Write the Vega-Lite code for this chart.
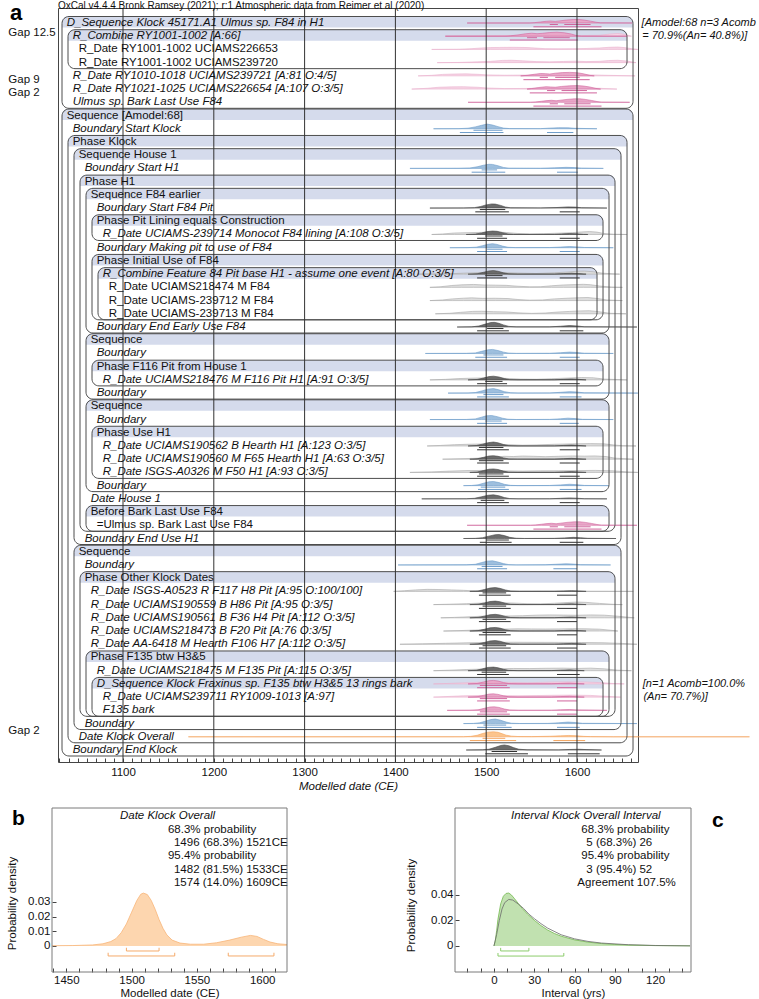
{
"$schema":"https://vega.github.io/schema/vega-lite/v6.json",
"width":580,"height":754,
"autosize":{"type":"none"},
"padding":{"left":58,"top":8,"right":121,"bottom":237},
"config":{"view":{"stroke":"#454545","strokeWidth":1},"font":"Liberation Sans","text":{"font":"Liberation Sans"},"axis":{"labelFont":"Liberation Sans","titleFont":"Liberation Sans"}},
"resolve":{"scale":{"x":"independent","y":"independent"}},
"datasets":{
"labels":[
{"r":1,"t":"D_Sequence Klock 45171.A1 Ulmus sp. F84 in H1","ind":0,"it":1},
{"r":2,"t":"R_Combine RY1001-1002 [A:66]","ind":1,"it":1},
{"r":3,"t":"R_Date RY1001-1002 UCIAMS226653","ind":2,"it":0},
{"r":4,"t":"R_Date RY1001-1002 UCIAMS239720","ind":2,"it":0},
{"r":5,"t":"R_Date RY1010-1018 UCIAMS239721 [A:81 O:4/5]","ind":1,"it":1},
{"r":6,"t":"R_Date RY1021-1025 UCIAMS226654 [A:107 O:3/5]","ind":1,"it":1},
{"r":7,"t":"Ulmus sp. Bark Last Use F84","ind":1,"it":1},
{"r":8,"t":"Sequence [Amodel:68]","ind":0,"it":0},
{"r":9,"t":"Boundary Start Klock","ind":1,"it":1},
{"r":10,"t":"Phase Klock","ind":1,"it":0},
{"r":11,"t":"Sequence House 1","ind":2,"it":0},
{"r":12,"t":"Boundary Start H1","ind":3,"it":1},
{"r":13,"t":"Phase H1","ind":3,"it":0},
{"r":14,"t":"Sequence F84 earlier","ind":4,"it":0},
{"r":15,"t":"Boundary Start F84 Pit","ind":5,"it":1},
{"r":16,"t":"Phase Pit Lining equals Construction","ind":5,"it":0},
{"r":17,"t":"R_Date UCIAMS-239714 Monocot F84 lining [A:108 O:3/5]","ind":6,"it":1},
{"r":18,"t":"Boundary Making pit to use of F84","ind":5,"it":1},
{"r":19,"t":"Phase Initial Use of F84","ind":5,"it":0},
{"r":20,"t":"R_Combine Feature 84 Pit base H1 - assume one event [A:80 O:3/5]","ind":6,"it":1},
{"r":21,"t":"R_Date UCIAMS218474 M F84","ind":7,"it":0},
{"r":22,"t":"R_Date UCIAMS-239712 M F84","ind":7,"it":0},
{"r":23,"t":"R_Date UCIAMS-239713 M F84","ind":7,"it":0},
{"r":24,"t":"Boundary End Early Use F84","ind":5,"it":1},
{"r":25,"t":"Sequence","ind":4,"it":0},
{"r":26,"t":"Boundary","ind":5,"it":1},
{"r":27,"t":"Phase F116 Pit from House 1","ind":5,"it":0},
{"r":28,"t":"R_Date UCIAMS218476 M F116 Pit H1 [A:91 O:3/5]","ind":6,"it":1},
{"r":29,"t":"Boundary","ind":5,"it":1},
{"r":30,"t":"Sequence","ind":4,"it":0},
{"r":31,"t":"Boundary","ind":5,"it":1},
{"r":32,"t":"Phase Use H1","ind":5,"it":0},
{"r":33,"t":"R_Date UCIAMS190562 B Hearth H1 [A:123 O:3/5]","ind":6,"it":1},
{"r":34,"t":"R_Date UCIAMS190560 M F65 Hearth H1 [A:63 O:3/5]","ind":6,"it":1},
{"r":35,"t":"R_Date ISGS-A0326 M F50 H1 [A:93 O:3/5]","ind":6,"it":1},
{"r":36,"t":"Boundary","ind":5,"it":1},
{"r":37,"t":"Date House 1","ind":4,"it":1},
{"r":38,"t":"Before Bark Last Use F84","ind":4,"it":0},
{"r":39,"t":"=Ulmus sp. Bark Last Use F84","ind":5,"it":0},
{"r":40,"t":"Boundary End Use H1","ind":3,"it":1},
{"r":41,"t":"Sequence","ind":2,"it":0},
{"r":42,"t":"Boundary","ind":3,"it":1},
{"r":43,"t":"Phase Other Klock Dates","ind":3,"it":0},
{"r":44,"t":"R_Date ISGS-A0523 R F117 H8 Pit [A:95 O:100/100]","ind":4,"it":1},
{"r":45,"t":"R_Date UCIAMS190559 B H86 Pit [A:95 O:3/5]","ind":4,"it":1},
{"r":46,"t":"R_Date UCIAMS190561 B F36 H4 Pit [A:112 O:3/5]","ind":4,"it":1},
{"r":47,"t":"R_Date UCIAMS218473 B F20 Pit [A:76 O:3/5]","ind":4,"it":1},
{"r":48,"t":"R_Date AA-6418 M Hearth F106 H7 [A:112 O:3/5]","ind":4,"it":1},
{"r":49,"t":"Phase F135 btw H3&5","ind":4,"it":0},
{"r":50,"t":"R_Date UCIAMS218475 M F135 Pit [A:115 O:3/5]","ind":5,"it":1},
{"r":51,"t":"D_Sequence Klock Fraxinus sp. F135 btw H3&5 13 rings bark","ind":5,"it":1},
{"r":52,"t":"R_Date UCIAMS239711 RY1009-1013 [A:97]","ind":6,"it":1},
{"r":53,"t":"F135 bark","ind":6,"it":1},
{"r":54,"t":"Boundary","ind":3,"it":1},
{"r":55,"t":"Date Klock Overall","ind":2,"it":1},
{"r":56,"t":"Boundary End Klock","ind":1,"it":1}
],
"boxes":[
{"r0":1,"r1":7,"depth":0},{"r0":2,"r1":4,"depth":1},{"r0":8,"r1":56,"depth":0},{"r0":10,"r1":55,"depth":1},
{"r0":11,"r1":40,"depth":2},{"r0":13,"r1":39,"depth":3},{"r0":14,"r1":24,"depth":4},{"r0":16,"r1":17,"depth":5},
{"r0":19,"r1":23,"depth":5},{"r0":20,"r1":23,"depth":6},{"r0":25,"r1":29,"depth":4},{"r0":27,"r1":28,"depth":5},
{"r0":30,"r1":36,"depth":4},{"r0":32,"r1":35,"depth":5},{"r0":38,"r1":39,"depth":4},{"r0":41,"r1":54,"depth":2},
{"r0":43,"r1":53,"depth":3},{"r0":49,"r1":53,"depth":4},{"r0":51,"r1":53,"depth":5}
],
"grid":[{"g":1100},{"g":1200},{"g":1300},{"g":1400},{"g":1500},{"g":1600}],
"gaps":[{"t":"Gap 12.5","ind":-8.95,"r":1.77},{"t":"Gap 9","ind":-8.95,"r":5.35},{"t":"Gap 2","ind":-8.95,"r":6.3},{"t":"Gap 2","ind":-8.95,"r":54.6}],
"ann":[{"t":"[Amodel:68 n=3 Acomb","ind":96.6,"r":1},{"t":"= 70.9%(An= 40.8%)]","ind":96.7,"r":2},{"t":"[n=1 Acomb=100.0%","ind":96.8,"r":51},{"t":"(An= 70.7%)]","ind":96.9,"r":52}],
"tag":[{"t":"a","ind":-8.67,"r":0.773}],
"ttl":[{"t":"OxCal v4.4.4 Bronk Ramsey (2021); r:1 Atmospheric data from Reimer et al (2020)","ind":-0.667,"r":-0.702}],
"dist":[
{"r":1,"k":"pk","x":1479,"d":0},{"r":1,"k":"pk","x":1548,"d":0},{"r":1,"k":"pk","x":1553,"d":6},{"r":1,"k":"pk","x":1560,"d":20},{"r":1,"k":"pk","x":1566,"d":32},{"r":1,"k":"pk","x":1571,"d":38},{"r":1,"k":"pk","x":1576,"d":30},{"r":1,"k":"pk","x":1581,"d":40},{"r":1,"k":"pk","x":1588,"d":55},{"r":1,"k":"pk","x":1596,"d":65},{"r":1,"k":"pk","x":1602,"d":66},{"r":1,"k":"pk","x":1608,"d":55},{"r":1,"k":"pk","x":1615,"d":35},{"r":1,"k":"pk","x":1621,"d":15},{"r":1,"k":"pk","x":1626,"d":3},{"r":1,"k":"pk","x":1661,"d":0},
{"r":2,"k":"pl","x":1455,"d":0},{"r":2,"k":"pl","x":1490,"d":6},{"r":2,"k":"pl","x":1520,"d":12},{"r":2,"k":"pl","x":1560,"d":12},{"r":2,"k":"pl","x":1600,"d":10},{"r":2,"k":"pl","x":1625,"d":18},{"r":2,"k":"pl","x":1636,"d":40},{"r":2,"k":"pl","x":1645,"d":52},{"r":2,"k":"pl","x":1652,"d":35},{"r":2,"k":"pl","x":1660,"d":0},
{"r":2,"k":"pk","x":1455,"d":0},{"r":2,"k":"pk","x":1522,"d":0},{"r":2,"k":"pk","x":1527,"d":8},{"r":2,"k":"pk","x":1535,"d":25},{"r":2,"k":"pk","x":1543,"d":45},{"r":2,"k":"pk","x":1550,"d":57},{"r":2,"k":"pk","x":1556,"d":48},{"r":2,"k":"pk","x":1562,"d":55},{"r":2,"k":"pk","x":1570,"d":70},{"r":2,"k":"pk","x":1578,"d":76},{"r":2,"k":"pk","x":1586,"d":65},{"r":2,"k":"pk","x":1594,"d":40},{"r":2,"k":"pk","x":1600,"d":10},{"r":2,"k":"pk","x":1605,"d":0},{"r":2,"k":"pk","x":1655,"d":0},
{"r":3,"k":"pl","x":1440,"d":0},{"r":3,"k":"pl","x":1470,"d":3},{"r":3,"k":"pl","x":1482,"d":12},{"r":3,"k":"pl","x":1495,"d":28},{"r":3,"k":"pl","x":1505,"d":35},{"r":3,"k":"pl","x":1515,"d":38},{"r":3,"k":"pl","x":1530,"d":40},{"r":3,"k":"pl","x":1545,"d":36},{"r":3,"k":"pl","x":1555,"d":25},{"r":3,"k":"pl","x":1565,"d":15},{"r":3,"k":"pl","x":1580,"d":12},{"r":3,"k":"pl","x":1595,"d":14},{"r":3,"k":"pl","x":1610,"d":18},{"r":3,"k":"pl","x":1625,"d":28},{"r":3,"k":"pl","x":1635,"d":40},{"r":3,"k":"pl","x":1645,"d":45},{"r":3,"k":"pl","x":1652,"d":35},{"r":3,"k":"pl","x":1660,"d":15},{"r":3,"k":"pl","x":1667,"d":0},
{"r":4,"k":"pl","x":1446,"d":0},{"r":4,"k":"pl","x":1470,"d":4},{"r":4,"k":"pl","x":1490,"d":15},{"r":4,"k":"pl","x":1505,"d":25},{"r":4,"k":"pl","x":1518,"d":42},{"r":4,"k":"pl","x":1528,"d":45},{"r":4,"k":"pl","x":1540,"d":35},{"r":4,"k":"pl","x":1555,"d":20},{"r":4,"k":"pl","x":1570,"d":15},{"r":4,"k":"pl","x":1585,"d":22},{"r":4,"k":"pl","x":1598,"d":28},{"r":4,"k":"pl","x":1610,"d":20},{"r":4,"k":"pl","x":1625,"d":25},{"r":4,"k":"pl","x":1635,"d":40},{"r":4,"k":"pl","x":1645,"d":45},{"r":4,"k":"pl","x":1655,"d":30},{"r":4,"k":"pl","x":1665,"d":0},
{"r":5,"k":"pl","x":1425,"d":0},{"r":5,"k":"pl","x":1440,"d":10},{"r":5,"k":"pl","x":1452,"d":28},{"r":5,"k":"pl","x":1465,"d":35},{"r":5,"k":"pl","x":1478,"d":38},{"r":5,"k":"pl","x":1490,"d":30},{"r":5,"k":"pl","x":1502,"d":18},{"r":5,"k":"pl","x":1520,"d":12},{"r":5,"k":"pl","x":1545,"d":15},{"r":5,"k":"pl","x":1570,"d":22},{"r":5,"k":"pl","x":1595,"d":25},{"r":5,"k":"pl","x":1615,"d":18},{"r":5,"k":"pl","x":1635,"d":10},{"r":5,"k":"pl","x":1664,"d":0},
{"r":5,"k":"pk","x":1538,"d":0},{"r":5,"k":"pk","x":1545,"d":10},{"r":5,"k":"pk","x":1553,"d":30},{"r":5,"k":"pk","x":1560,"d":45},{"r":5,"k":"pk","x":1565,"d":42},{"r":5,"k":"pk","x":1570,"d":35},{"r":5,"k":"pk","x":1576,"d":50},{"r":5,"k":"pk","x":1584,"d":62},{"r":5,"k":"pk","x":1592,"d":66},{"r":5,"k":"pk","x":1600,"d":60},{"r":5,"k":"pk","x":1607,"d":40},{"r":5,"k":"pk","x":1614,"d":10},{"r":5,"k":"pk","x":1619,"d":0},
{"r":6,"k":"pl","x":1418,"d":0},{"r":6,"k":"pl","x":1435,"d":15},{"r":6,"k":"pl","x":1448,"d":35},{"r":6,"k":"pl","x":1462,"d":42},{"r":6,"k":"pl","x":1475,"d":45},{"r":6,"k":"pl","x":1490,"d":35},{"r":6,"k":"pl","x":1502,"d":20},{"r":6,"k":"pl","x":1520,"d":10},{"r":6,"k":"pl","x":1545,"d":12},{"r":6,"k":"pl","x":1570,"d":18},{"r":6,"k":"pl","x":1600,"d":22},{"r":6,"k":"pl","x":1625,"d":15},{"r":6,"k":"pl","x":1644,"d":0},
{"r":6,"k":"pk","x":1545,"d":0},{"r":6,"k":"pk","x":1550,"d":10},{"r":6,"k":"pk","x":1558,"d":30},{"r":6,"k":"pk","x":1566,"d":45},{"r":6,"k":"pk","x":1571,"d":40},{"r":6,"k":"pk","x":1576,"d":35},{"r":6,"k":"pk","x":1583,"d":50},{"r":6,"k":"pk","x":1592,"d":62},{"r":6,"k":"pk","x":1600,"d":66},{"r":6,"k":"pk","x":1607,"d":58},{"r":6,"k":"pk","x":1614,"d":40},{"r":6,"k":"pk","x":1621,"d":12},{"r":6,"k":"pk","x":1626,"d":0},
{"r":7,"k":"pk","x":1480,"d":0},{"r":7,"k":"pk","x":1549,"d":0},{"r":7,"k":"pk","x":1554,"d":6},{"r":7,"k":"pk","x":1561,"d":20},{"r":7,"k":"pk","x":1567,"d":32},{"r":7,"k":"pk","x":1572,"d":38},{"r":7,"k":"pk","x":1577,"d":30},{"r":7,"k":"pk","x":1582,"d":40},{"r":7,"k":"pk","x":1589,"d":55},{"r":7,"k":"pk","x":1597,"d":65},{"r":7,"k":"pk","x":1603,"d":66},{"r":7,"k":"pk","x":1609,"d":55},{"r":7,"k":"pk","x":1616,"d":35},{"r":7,"k":"pk","x":1622,"d":15},{"r":7,"k":"pk","x":1627,"d":3},{"r":7,"k":"pk","x":1658,"d":0},
{"r":9,"k":"bl","x":1442,"d":0},{"r":9,"k":"bl","x":1470,"d":2},{"r":9,"k":"bl","x":1480,"d":10},{"r":9,"k":"bl","x":1488,"d":35},{"r":9,"k":"bl","x":1495,"d":65},{"r":9,"k":"bl","x":1501,"d":88},{"r":9,"k":"bl","x":1507,"d":70},{"r":9,"k":"bl","x":1513,"d":40},{"r":9,"k":"bl","x":1519,"d":12},{"r":9,"k":"bl","x":1526,"d":3},{"r":9,"k":"bl","x":1560,"d":2},{"r":9,"k":"bl","x":1568,"d":10},{"r":9,"k":"bl","x":1580,"d":20},{"r":9,"k":"bl","x":1590,"d":18},{"r":9,"k":"bl","x":1598,"d":8},{"r":9,"k":"bl","x":1622,"d":0},
{"r":12,"k":"bl","x":1416,"d":0},{"r":12,"k":"bl","x":1470,"d":2},{"r":12,"k":"bl","x":1482,"d":8},{"r":12,"k":"bl","x":1490,"d":30},{"r":12,"k":"bl","x":1497,"d":60},{"r":12,"k":"bl","x":1503,"d":78},{"r":12,"k":"bl","x":1507,"d":75},{"r":12,"k":"bl","x":1513,"d":50},{"r":12,"k":"bl","x":1519,"d":18},{"r":12,"k":"bl","x":1525,"d":4},{"r":12,"k":"bl","x":1560,"d":2},{"r":12,"k":"bl","x":1575,"d":10},{"r":12,"k":"bl","x":1588,"d":20},{"r":12,"k":"bl","x":1597,"d":15},{"r":12,"k":"bl","x":1605,"d":5},{"r":12,"k":"bl","x":1629,"d":0},
{"r":15,"k":"dk","x":1438,"d":0},{"r":15,"k":"dk","x":1475,"d":2},{"r":15,"k":"dk","x":1487,"d":8},{"r":15,"k":"dk","x":1494,"d":30},{"r":15,"k":"dk","x":1500,"d":60},{"r":15,"k":"dk","x":1506,"d":78},{"r":15,"k":"dk","x":1510,"d":75},{"r":15,"k":"dk","x":1516,"d":50},{"r":15,"k":"dk","x":1521,"d":20},{"r":15,"k":"dk","x":1527,"d":5},{"r":15,"k":"dk","x":1560,"d":3},{"r":15,"k":"dk","x":1578,"d":10},{"r":15,"k":"dk","x":1590,"d":22},{"r":15,"k":"dk","x":1598,"d":18},{"r":15,"k":"dk","x":1605,"d":6},{"r":15,"k":"dk","x":1633,"d":0},
{"r":17,"k":"lt","x":1440,"d":0},{"r":17,"k":"lt","x":1452,"d":10},{"r":17,"k":"lt","x":1465,"d":28},{"r":17,"k":"lt","x":1480,"d":35},{"r":17,"k":"lt","x":1495,"d":40},{"r":17,"k":"lt","x":1510,"d":45},{"r":17,"k":"lt","x":1522,"d":38},{"r":17,"k":"lt","x":1534,"d":20},{"r":17,"k":"lt","x":1548,"d":10},{"r":17,"k":"lt","x":1563,"d":15},{"r":17,"k":"lt","x":1580,"d":25},{"r":17,"k":"lt","x":1595,"d":35},{"r":17,"k":"lt","x":1605,"d":48},{"r":17,"k":"lt","x":1614,"d":55},{"r":17,"k":"lt","x":1622,"d":45},{"r":17,"k":"lt","x":1629,"d":20},{"r":17,"k":"lt","x":1640,"d":5},{"r":17,"k":"lt","x":1655,"d":0},
{"r":17,"k":"dk","x":1478,"d":0},{"r":17,"k":"dk","x":1488,"d":8},{"r":17,"k":"dk","x":1495,"d":30},{"r":17,"k":"dk","x":1501,"d":55},{"r":17,"k":"dk","x":1507,"d":66},{"r":17,"k":"dk","x":1512,"d":60},{"r":17,"k":"dk","x":1518,"d":35},{"r":17,"k":"dk","x":1524,"d":10},{"r":17,"k":"dk","x":1530,"d":2},{"r":17,"k":"dk","x":1575,"d":2},{"r":17,"k":"dk","x":1583,"d":10},{"r":17,"k":"dk","x":1592,"d":18},{"r":17,"k":"dk","x":1600,"d":12},{"r":17,"k":"dk","x":1607,"d":2},{"r":17,"k":"dk","x":1612,"d":0},
{"r":18,"k":"bl","x":1460,"d":0},{"r":18,"k":"bl","x":1480,"d":2},{"r":18,"k":"bl","x":1489,"d":10},{"r":18,"k":"bl","x":1496,"d":38},{"r":18,"k":"bl","x":1502,"d":65},{"r":18,"k":"bl","x":1507,"d":76},{"r":18,"k":"bl","x":1512,"d":62},{"r":18,"k":"bl","x":1518,"d":30},{"r":18,"k":"bl","x":1524,"d":8},{"r":18,"k":"bl","x":1532,"d":2},{"r":18,"k":"bl","x":1570,"d":3},{"r":18,"k":"bl","x":1582,"d":12},{"r":18,"k":"bl","x":1592,"d":22},{"r":18,"k":"bl","x":1600,"d":15},{"r":18,"k":"bl","x":1608,"d":4},{"r":18,"k":"bl","x":1640,"d":0},
{"r":20,"k":"lt","x":1424,"d":0},{"r":20,"k":"lt","x":1455,"d":5},{"r":20,"k":"lt","x":1475,"d":18},{"r":20,"k":"lt","x":1495,"d":30},{"r":20,"k":"lt","x":1515,"d":32},{"r":20,"k":"lt","x":1535,"d":20},{"r":20,"k":"lt","x":1555,"d":12},{"r":20,"k":"lt","x":1575,"d":25},{"r":20,"k":"lt","x":1590,"d":40},{"r":20,"k":"lt","x":1600,"d":55},{"r":20,"k":"lt","x":1608,"d":58},{"r":20,"k":"lt","x":1618,"d":45},{"r":20,"k":"lt","x":1628,"d":18},{"r":20,"k":"lt","x":1647,"d":0},
{"r":20,"k":"dk","x":1480,"d":0},{"r":20,"k":"dk","x":1490,"d":8},{"r":20,"k":"dk","x":1497,"d":35},{"r":20,"k":"dk","x":1503,"d":60},{"r":20,"k":"dk","x":1508,"d":68},{"r":20,"k":"dk","x":1513,"d":55},{"r":20,"k":"dk","x":1519,"d":25},{"r":20,"k":"dk","x":1525,"d":6},{"r":20,"k":"dk","x":1535,"d":1},{"r":20,"k":"dk","x":1575,"d":2},{"r":20,"k":"dk","x":1585,"d":10},{"r":20,"k":"dk","x":1594,"d":18},{"r":20,"k":"dk","x":1602,"d":10},{"r":20,"k":"dk","x":1610,"d":0},
{"r":21,"k":"lt","x":1438,"d":0},{"r":21,"k":"lt","x":1450,"d":12},{"r":21,"k":"lt","x":1462,"d":35},{"r":21,"k":"lt","x":1473,"d":48},{"r":21,"k":"lt","x":1486,"d":55},{"r":21,"k":"lt","x":1498,"d":45},{"r":21,"k":"lt","x":1510,"d":42},{"r":21,"k":"lt","x":1522,"d":38},{"r":21,"k":"lt","x":1534,"d":22},{"r":21,"k":"lt","x":1548,"d":10},{"r":21,"k":"lt","x":1560,"d":12},{"r":21,"k":"lt","x":1572,"d":30},{"r":21,"k":"lt","x":1585,"d":45},{"r":21,"k":"lt","x":1598,"d":52},{"r":21,"k":"lt","x":1607,"d":58},{"r":21,"k":"lt","x":1615,"d":50},{"r":21,"k":"lt","x":1625,"d":25},{"r":21,"k":"lt","x":1638,"d":5},{"r":21,"k":"lt","x":1650,"d":0},
{"r":22,"k":"lt","x":1438,"d":0},{"r":22,"k":"lt","x":1452,"d":12},{"r":22,"k":"lt","x":1463,"d":32},{"r":22,"k":"lt","x":1475,"d":45},{"r":22,"k":"lt","x":1484,"d":52},{"r":22,"k":"lt","x":1496,"d":42},{"r":22,"k":"lt","x":1510,"d":44},{"r":22,"k":"lt","x":1524,"d":38},{"r":22,"k":"lt","x":1535,"d":20},{"r":22,"k":"lt","x":1548,"d":8},{"r":22,"k":"lt","x":1562,"d":12},{"r":22,"k":"lt","x":1575,"d":32},{"r":22,"k":"lt","x":1590,"d":45},{"r":22,"k":"lt","x":1603,"d":55},{"r":22,"k":"lt","x":1612,"d":58},{"r":22,"k":"lt","x":1622,"d":40},{"r":22,"k":"lt","x":1633,"d":12},{"r":22,"k":"lt","x":1650,"d":0},
{"r":23,"k":"lt","x":1444,"d":0},{"r":23,"k":"lt","x":1460,"d":10},{"r":23,"k":"lt","x":1472,"d":28},{"r":23,"k":"lt","x":1485,"d":45},{"r":23,"k":"lt","x":1495,"d":48},{"r":23,"k":"lt","x":1508,"d":40},{"r":23,"k":"lt","x":1522,"d":35},{"r":23,"k":"lt","x":1535,"d":18},{"r":23,"k":"lt","x":1550,"d":8},{"r":23,"k":"lt","x":1565,"d":15},{"r":23,"k":"lt","x":1578,"d":32},{"r":23,"k":"lt","x":1592,"d":45},{"r":23,"k":"lt","x":1604,"d":55},{"r":23,"k":"lt","x":1614,"d":58},{"r":23,"k":"lt","x":1624,"d":40},{"r":23,"k":"lt","x":1636,"d":10},{"r":23,"k":"lt","x":1654,"d":0},
{"r":24,"k":"dk","x":1468,"d":0},{"r":24,"k":"dk","x":1484,"d":3},{"r":24,"k":"dk","x":1492,"d":20},{"r":24,"k":"dk","x":1499,"d":55},{"r":24,"k":"dk","x":1505,"d":85},{"r":24,"k":"dk","x":1509,"d":88},{"r":24,"k":"dk","x":1514,"d":70},{"r":24,"k":"dk","x":1519,"d":40},{"r":24,"k":"dk","x":1525,"d":12},{"r":24,"k":"dk","x":1533,"d":3},{"r":24,"k":"dk","x":1570,"d":3},{"r":24,"k":"dk","x":1582,"d":15},{"r":24,"k":"dk","x":1592,"d":28},{"r":24,"k":"dk","x":1600,"d":20},{"r":24,"k":"dk","x":1608,"d":5},{"r":24,"k":"dk","x":1666,"d":0},
{"r":26,"k":"bl","x":1433,"d":0},{"r":26,"k":"bl","x":1478,"d":2},{"r":26,"k":"bl","x":1488,"d":10},{"r":26,"k":"bl","x":1495,"d":40},{"r":26,"k":"bl","x":1502,"d":68},{"r":26,"k":"bl","x":1507,"d":76},{"r":26,"k":"bl","x":1513,"d":55},{"r":26,"k":"bl","x":1519,"d":25},{"r":26,"k":"bl","x":1525,"d":6},{"r":26,"k":"bl","x":1533,"d":1},{"r":26,"k":"bl","x":1570,"d":3},{"r":26,"k":"bl","x":1582,"d":14},{"r":26,"k":"bl","x":1592,"d":26},{"r":26,"k":"bl","x":1600,"d":18},{"r":26,"k":"bl","x":1608,"d":4},{"r":26,"k":"bl","x":1640,"d":0},
{"r":28,"k":"lt","x":1438,"d":0},{"r":28,"k":"lt","x":1455,"d":10},{"r":28,"k":"lt","x":1470,"d":25},{"r":28,"k":"lt","x":1490,"d":35},{"r":28,"k":"lt","x":1505,"d":38},{"r":28,"k":"lt","x":1520,"d":30},{"r":28,"k":"lt","x":1538,"d":15},{"r":28,"k":"lt","x":1555,"d":12},{"r":28,"k":"lt","x":1572,"d":22},{"r":28,"k":"lt","x":1590,"d":35},{"r":28,"k":"lt","x":1605,"d":45},{"r":28,"k":"lt","x":1618,"d":40},{"r":28,"k":"lt","x":1630,"d":15},{"r":28,"k":"lt","x":1655,"d":0},
{"r":28,"k":"dk","x":1480,"d":0},{"r":28,"k":"dk","x":1490,"d":8},{"r":28,"k":"dk","x":1497,"d":35},{"r":28,"k":"dk","x":1503,"d":62},{"r":28,"k":"dk","x":1508,"d":70},{"r":28,"k":"dk","x":1514,"d":55},{"r":28,"k":"dk","x":1520,"d":25},{"r":28,"k":"dk","x":1526,"d":5},{"r":28,"k":"dk","x":1535,"d":1},{"r":28,"k":"dk","x":1575,"d":2},{"r":28,"k":"dk","x":1585,"d":10},{"r":28,"k":"dk","x":1594,"d":18},{"r":28,"k":"dk","x":1602,"d":10},{"r":28,"k":"dk","x":1610,"d":0},
{"r":29,"k":"bl","x":1458,"d":0},{"r":29,"k":"bl","x":1480,"d":2},{"r":29,"k":"bl","x":1488,"d":10},{"r":29,"k":"bl","x":1496,"d":45},{"r":29,"k":"bl","x":1502,"d":75},{"r":29,"k":"bl","x":1508,"d":85},{"r":29,"k":"bl","x":1514,"d":62},{"r":29,"k":"bl","x":1520,"d":28},{"r":29,"k":"bl","x":1527,"d":6},{"r":29,"k":"bl","x":1535,"d":1},{"r":29,"k":"bl","x":1570,"d":3},{"r":29,"k":"bl","x":1582,"d":15},{"r":29,"k":"bl","x":1592,"d":28},{"r":29,"k":"bl","x":1600,"d":20},{"r":29,"k":"bl","x":1608,"d":5},{"r":29,"k":"bl","x":1667,"d":0},
{"r":31,"k":"bl","x":1438,"d":0},{"r":31,"k":"bl","x":1478,"d":2},{"r":31,"k":"bl","x":1488,"d":12},{"r":31,"k":"bl","x":1495,"d":45},{"r":31,"k":"bl","x":1500,"d":70},{"r":31,"k":"bl","x":1506,"d":76},{"r":31,"k":"bl","x":1512,"d":55},{"r":31,"k":"bl","x":1518,"d":25},{"r":31,"k":"bl","x":1524,"d":6},{"r":31,"k":"bl","x":1533,"d":1},{"r":31,"k":"bl","x":1570,"d":3},{"r":31,"k":"bl","x":1582,"d":14},{"r":31,"k":"bl","x":1590,"d":26},{"r":31,"k":"bl","x":1598,"d":18},{"r":31,"k":"bl","x":1606,"d":4},{"r":31,"k":"bl","x":1640,"d":0},
{"r":33,"k":"lt","x":1435,"d":0},{"r":33,"k":"lt","x":1450,"d":10},{"r":33,"k":"lt","x":1465,"d":25},{"r":33,"k":"lt","x":1480,"d":32},{"r":33,"k":"lt","x":1495,"d":38},{"r":33,"k":"lt","x":1510,"d":36},{"r":33,"k":"lt","x":1525,"d":25},{"r":33,"k":"lt","x":1540,"d":15},{"r":33,"k":"lt","x":1555,"d":20},{"r":33,"k":"lt","x":1575,"d":32},{"r":33,"k":"lt","x":1595,"d":40},{"r":33,"k":"lt","x":1615,"d":45},{"r":33,"k":"lt","x":1630,"d":40},{"r":33,"k":"lt","x":1640,"d":20},{"r":33,"k":"lt","x":1650,"d":5},{"r":33,"k":"lt","x":1665,"d":0},
{"r":33,"k":"dk","x":1480,"d":0},{"r":33,"k":"dk","x":1489,"d":8},{"r":33,"k":"dk","x":1496,"d":35},{"r":33,"k":"dk","x":1502,"d":62},{"r":33,"k":"dk","x":1508,"d":75},{"r":33,"k":"dk","x":1513,"d":60},{"r":33,"k":"dk","x":1519,"d":28},{"r":33,"k":"dk","x":1525,"d":6},{"r":33,"k":"dk","x":1535,"d":1},{"r":33,"k":"dk","x":1575,"d":2},{"r":33,"k":"dk","x":1585,"d":10},{"r":33,"k":"dk","x":1594,"d":18},{"r":33,"k":"dk","x":1602,"d":10},{"r":33,"k":"dk","x":1610,"d":0},
{"r":34,"k":"lt","x":1452,"d":0},{"r":34,"k":"lt","x":1470,"d":8},{"r":34,"k":"lt","x":1485,"d":15},{"r":34,"k":"lt","x":1500,"d":25},{"r":34,"k":"lt","x":1510,"d":40},{"r":34,"k":"lt","x":1520,"d":55},{"r":34,"k":"lt","x":1530,"d":50},{"r":34,"k":"lt","x":1540,"d":60},{"r":34,"k":"lt","x":1552,"d":55},{"r":34,"k":"lt","x":1565,"d":48},{"r":34,"k":"lt","x":1580,"d":55},{"r":34,"k":"lt","x":1595,"d":62},{"r":34,"k":"lt","x":1608,"d":58},{"r":34,"k":"lt","x":1620,"d":62},{"r":34,"k":"lt","x":1632,"d":50},{"r":34,"k":"lt","x":1642,"d":20},{"r":34,"k":"lt","x":1662,"d":0},
{"r":34,"k":"dk","x":1482,"d":0},{"r":34,"k":"dk","x":1490,"d":8},{"r":34,"k":"dk","x":1497,"d":35},{"r":34,"k":"dk","x":1503,"d":60},{"r":34,"k":"dk","x":1508,"d":66},{"r":34,"k":"dk","x":1513,"d":55},{"r":34,"k":"dk","x":1519,"d":25},{"r":34,"k":"dk","x":1525,"d":5},{"r":34,"k":"dk","x":1535,"d":1},{"r":34,"k":"dk","x":1575,"d":2},{"r":34,"k":"dk","x":1585,"d":10},{"r":34,"k":"dk","x":1594,"d":16},{"r":34,"k":"dk","x":1602,"d":8},{"r":34,"k":"dk","x":1610,"d":0},
{"r":35,"k":"lt","x":1416,"d":0},{"r":35,"k":"lt","x":1440,"d":10},{"r":35,"k":"lt","x":1460,"d":25},{"r":35,"k":"lt","x":1480,"d":35},{"r":35,"k":"lt","x":1500,"d":38},{"r":35,"k":"lt","x":1520,"d":30},{"r":35,"k":"lt","x":1540,"d":25},{"r":35,"k":"lt","x":1560,"d":30},{"r":35,"k":"lt","x":1580,"d":32},{"r":35,"k":"lt","x":1600,"d":35},{"r":35,"k":"lt","x":1620,"d":38},{"r":35,"k":"lt","x":1640,"d":30},{"r":35,"k":"lt","x":1655,"d":10},{"r":35,"k":"lt","x":1667,"d":0},
{"r":35,"k":"dk","x":1482,"d":0},{"r":35,"k":"dk","x":1490,"d":8},{"r":35,"k":"dk","x":1497,"d":35},{"r":35,"k":"dk","x":1503,"d":60},{"r":35,"k":"dk","x":1508,"d":66},{"r":35,"k":"dk","x":1513,"d":55},{"r":35,"k":"dk","x":1519,"d":25},{"r":35,"k":"dk","x":1525,"d":5},{"r":35,"k":"dk","x":1535,"d":1},{"r":35,"k":"dk","x":1575,"d":2},{"r":35,"k":"dk","x":1585,"d":10},{"r":35,"k":"dk","x":1594,"d":16},{"r":35,"k":"dk","x":1602,"d":8},{"r":35,"k":"dk","x":1610,"d":0},
{"r":36,"k":"bl","x":1475,"d":0},{"r":36,"k":"bl","x":1484,"d":3},{"r":36,"k":"bl","x":1491,"d":15},{"r":36,"k":"bl","x":1497,"d":45},{"r":36,"k":"bl","x":1503,"d":72},{"r":36,"k":"bl","x":1508,"d":78},{"r":36,"k":"bl","x":1514,"d":58},{"r":36,"k":"bl","x":1520,"d":25},{"r":36,"k":"bl","x":1527,"d":5},{"r":36,"k":"bl","x":1535,"d":1},{"r":36,"k":"bl","x":1570,"d":3},{"r":36,"k":"bl","x":1582,"d":14},{"r":36,"k":"bl","x":1592,"d":26},{"r":36,"k":"bl","x":1600,"d":18},{"r":36,"k":"bl","x":1608,"d":4},{"r":36,"k":"bl","x":1635,"d":0},
{"r":37,"k":"dk","x":1429,"d":0},{"r":37,"k":"dk","x":1478,"d":2},{"r":37,"k":"dk","x":1487,"d":10},{"r":37,"k":"dk","x":1495,"d":40},{"r":37,"k":"dk","x":1502,"d":68},{"r":37,"k":"dk","x":1508,"d":76},{"r":37,"k":"dk","x":1514,"d":58},{"r":37,"k":"dk","x":1520,"d":25},{"r":37,"k":"dk","x":1526,"d":5},{"r":37,"k":"dk","x":1535,"d":1},{"r":37,"k":"dk","x":1570,"d":2},{"r":37,"k":"dk","x":1582,"d":10},{"r":37,"k":"dk","x":1592,"d":18},{"r":37,"k":"dk","x":1600,"d":12},{"r":37,"k":"dk","x":1608,"d":3},{"r":37,"k":"dk","x":1633,"d":0},
{"r":39,"k":"pk","x":1479,"d":0},{"r":39,"k":"pk","x":1549,"d":0},{"r":39,"k":"pk","x":1554,"d":6},{"r":39,"k":"pk","x":1561,"d":20},{"r":39,"k":"pk","x":1567,"d":32},{"r":39,"k":"pk","x":1572,"d":38},{"r":39,"k":"pk","x":1577,"d":30},{"r":39,"k":"pk","x":1582,"d":40},{"r":39,"k":"pk","x":1589,"d":55},{"r":39,"k":"pk","x":1597,"d":65},{"r":39,"k":"pk","x":1603,"d":66},{"r":39,"k":"pk","x":1609,"d":55},{"r":39,"k":"pk","x":1616,"d":35},{"r":39,"k":"pk","x":1622,"d":15},{"r":39,"k":"pk","x":1627,"d":3},{"r":39,"k":"pk","x":1666,"d":0},
{"r":40,"k":"dk","x":1475,"d":0},{"r":40,"k":"dk","x":1488,"d":3},{"r":40,"k":"dk","x":1496,"d":15},{"r":40,"k":"dk","x":1503,"d":45},{"r":40,"k":"dk","x":1510,"d":72},{"r":40,"k":"dk","x":1514,"d":76},{"r":40,"k":"dk","x":1520,"d":55},{"r":40,"k":"dk","x":1526,"d":22},{"r":40,"k":"dk","x":1533,"d":5},{"r":40,"k":"dk","x":1542,"d":1},{"r":40,"k":"dk","x":1575,"d":3},{"r":40,"k":"dk","x":1586,"d":12},{"r":40,"k":"dk","x":1596,"d":22},{"r":40,"k":"dk","x":1604,"d":15},{"r":40,"k":"dk","x":1612,"d":4},{"r":40,"k":"dk","x":1643,"d":0},
{"r":42,"k":"bl","x":1403,"d":0},{"r":42,"k":"bl","x":1478,"d":2},{"r":42,"k":"bl","x":1488,"d":12},{"r":42,"k":"bl","x":1495,"d":45},{"r":42,"k":"bl","x":1501,"d":72},{"r":42,"k":"bl","x":1507,"d":78},{"r":42,"k":"bl","x":1513,"d":55},{"r":42,"k":"bl","x":1519,"d":25},{"r":42,"k":"bl","x":1525,"d":6},{"r":42,"k":"bl","x":1533,"d":1},{"r":42,"k":"bl","x":1565,"d":3},{"r":42,"k":"bl","x":1576,"d":12},{"r":42,"k":"bl","x":1588,"d":22},{"r":42,"k":"bl","x":1596,"d":16},{"r":42,"k":"bl","x":1604,"d":4},{"r":42,"k":"bl","x":1637,"d":0},
{"r":44,"k":"lt","x":1398,"d":0},{"r":44,"k":"lt","x":1410,"d":12},{"r":44,"k":"lt","x":1422,"d":28},{"r":44,"k":"lt","x":1435,"d":38},{"r":44,"k":"lt","x":1448,"d":35},{"r":44,"k":"lt","x":1462,"d":28},{"r":44,"k":"lt","x":1475,"d":20},{"r":44,"k":"lt","x":1488,"d":8},{"r":44,"k":"lt","x":1500,"d":2},{"r":44,"k":"lt","x":1662,"d":0},
{"r":44,"k":"dk","x":1482,"d":0},{"r":44,"k":"dk","x":1491,"d":8},{"r":44,"k":"dk","x":1498,"d":35},{"r":44,"k":"dk","x":1504,"d":62},{"r":44,"k":"dk","x":1510,"d":72},{"r":44,"k":"dk","x":1515,"d":58},{"r":44,"k":"dk","x":1521,"d":28},{"r":44,"k":"dk","x":1527,"d":6},{"r":44,"k":"dk","x":1537,"d":1},{"r":44,"k":"dk","x":1575,"d":2},{"r":44,"k":"dk","x":1585,"d":8},{"r":44,"k":"dk","x":1594,"d":14},{"r":44,"k":"dk","x":1602,"d":8},{"r":44,"k":"dk","x":1610,"d":0},
{"r":45,"k":"lt","x":1442,"d":0},{"r":45,"k":"lt","x":1460,"d":8},{"r":45,"k":"lt","x":1478,"d":18},{"r":45,"k":"lt","x":1495,"d":28},{"r":45,"k":"lt","x":1512,"d":35},{"r":45,"k":"lt","x":1528,"d":30},{"r":45,"k":"lt","x":1545,"d":18},{"r":45,"k":"lt","x":1560,"d":15},{"r":45,"k":"lt","x":1575,"d":25},{"r":45,"k":"lt","x":1590,"d":40},{"r":45,"k":"lt","x":1600,"d":48},{"r":45,"k":"lt","x":1610,"d":42},{"r":45,"k":"lt","x":1625,"d":22},{"r":45,"k":"lt","x":1640,"d":5},{"r":45,"k":"lt","x":1650,"d":0},
{"r":45,"k":"dk","x":1482,"d":0},{"r":45,"k":"dk","x":1491,"d":8},{"r":45,"k":"dk","x":1498,"d":32},{"r":45,"k":"dk","x":1504,"d":58},{"r":45,"k":"dk","x":1510,"d":66},{"r":45,"k":"dk","x":1515,"d":55},{"r":45,"k":"dk","x":1521,"d":26},{"r":45,"k":"dk","x":1527,"d":6},{"r":45,"k":"dk","x":1537,"d":1},{"r":45,"k":"dk","x":1575,"d":2},{"r":45,"k":"dk","x":1585,"d":10},{"r":45,"k":"dk","x":1594,"d":16},{"r":45,"k":"dk","x":1602,"d":8},{"r":45,"k":"dk","x":1610,"d":0},
{"r":46,"k":"lt","x":1450,"d":0},{"r":46,"k":"lt","x":1465,"d":8},{"r":46,"k":"lt","x":1480,"d":18},{"r":46,"k":"lt","x":1495,"d":30},{"r":46,"k":"lt","x":1510,"d":38},{"r":46,"k":"lt","x":1525,"d":35},{"r":46,"k":"lt","x":1540,"d":40},{"r":46,"k":"lt","x":1555,"d":50},{"r":46,"k":"lt","x":1570,"d":55},{"r":46,"k":"lt","x":1585,"d":52},{"r":46,"k":"lt","x":1600,"d":48},{"r":46,"k":"lt","x":1615,"d":55},{"r":46,"k":"lt","x":1630,"d":50},{"r":46,"k":"lt","x":1645,"d":30},{"r":46,"k":"lt","x":1663,"d":0},
{"r":46,"k":"dk","x":1482,"d":0},{"r":46,"k":"dk","x":1491,"d":8},{"r":46,"k":"dk","x":1498,"d":32},{"r":46,"k":"dk","x":1504,"d":58},{"r":46,"k":"dk","x":1510,"d":66},{"r":46,"k":"dk","x":1515,"d":55},{"r":46,"k":"dk","x":1521,"d":26},{"r":46,"k":"dk","x":1527,"d":6},{"r":46,"k":"dk","x":1537,"d":1},{"r":46,"k":"dk","x":1575,"d":2},{"r":46,"k":"dk","x":1585,"d":10},{"r":46,"k":"dk","x":1594,"d":16},{"r":46,"k":"dk","x":1602,"d":8},{"r":46,"k":"dk","x":1610,"d":0},
{"r":47,"k":"lt","x":1453,"d":0},{"r":47,"k":"lt","x":1470,"d":8},{"r":47,"k":"lt","x":1488,"d":18},{"r":47,"k":"lt","x":1505,"d":30},{"r":47,"k":"lt","x":1520,"d":38},{"r":47,"k":"lt","x":1535,"d":42},{"r":47,"k":"lt","x":1550,"d":40},{"r":47,"k":"lt","x":1565,"d":38},{"r":47,"k":"lt","x":1580,"d":40},{"r":47,"k":"lt","x":1595,"d":45},{"r":47,"k":"lt","x":1610,"d":42},{"r":47,"k":"lt","x":1625,"d":35},{"r":47,"k":"lt","x":1637,"d":15},{"r":47,"k":"lt","x":1645,"d":0},
{"r":47,"k":"dk","x":1482,"d":0},{"r":47,"k":"dk","x":1491,"d":8},{"r":47,"k":"dk","x":1498,"d":33},{"r":47,"k":"dk","x":1504,"d":60},{"r":47,"k":"dk","x":1510,"d":68},{"r":47,"k":"dk","x":1515,"d":56},{"r":47,"k":"dk","x":1521,"d":26},{"r":47,"k":"dk","x":1527,"d":6},{"r":47,"k":"dk","x":1537,"d":1},{"r":47,"k":"dk","x":1575,"d":2},{"r":47,"k":"dk","x":1585,"d":10},{"r":47,"k":"dk","x":1594,"d":16},{"r":47,"k":"dk","x":1602,"d":8},{"r":47,"k":"dk","x":1610,"d":0},
{"r":48,"k":"lt","x":1405,"d":0},{"r":48,"k":"lt","x":1430,"d":8},{"r":48,"k":"lt","x":1455,"d":18},{"r":48,"k":"lt","x":1480,"d":28},{"r":48,"k":"lt","x":1505,"d":35},{"r":48,"k":"lt","x":1530,"d":38},{"r":48,"k":"lt","x":1555,"d":36},{"r":48,"k":"lt","x":1580,"d":35},{"r":48,"k":"lt","x":1605,"d":33},{"r":48,"k":"lt","x":1630,"d":28},{"r":48,"k":"lt","x":1650,"d":15},{"r":48,"k":"lt","x":1666,"d":0},
{"r":48,"k":"dk","x":1482,"d":0},{"r":48,"k":"dk","x":1491,"d":8},{"r":48,"k":"dk","x":1498,"d":34},{"r":48,"k":"dk","x":1504,"d":62},{"r":48,"k":"dk","x":1510,"d":70},{"r":48,"k":"dk","x":1515,"d":58},{"r":48,"k":"dk","x":1521,"d":27},{"r":48,"k":"dk","x":1527,"d":6},{"r":48,"k":"dk","x":1537,"d":1},{"r":48,"k":"dk","x":1575,"d":2},{"r":48,"k":"dk","x":1585,"d":10},{"r":48,"k":"dk","x":1594,"d":16},{"r":48,"k":"dk","x":1602,"d":8},{"r":48,"k":"dk","x":1610,"d":0},
{"r":50,"k":"lt","x":1442,"d":0},{"r":50,"k":"lt","x":1460,"d":10},{"r":50,"k":"lt","x":1478,"d":22},{"r":50,"k":"lt","x":1495,"d":30},{"r":50,"k":"lt","x":1512,"d":35},{"r":50,"k":"lt","x":1530,"d":42},{"r":50,"k":"lt","x":1548,"d":40},{"r":50,"k":"lt","x":1565,"d":45},{"r":50,"k":"lt","x":1585,"d":48},{"r":50,"k":"lt","x":1600,"d":42},{"r":50,"k":"lt","x":1615,"d":48},{"r":50,"k":"lt","x":1630,"d":35},{"r":50,"k":"lt","x":1645,"d":10},{"r":50,"k":"lt","x":1660,"d":0},
{"r":50,"k":"dk","x":1480,"d":0},{"r":50,"k":"dk","x":1489,"d":8},{"r":50,"k":"dk","x":1496,"d":35},{"r":50,"k":"dk","x":1502,"d":62},{"r":50,"k":"dk","x":1508,"d":68},{"r":50,"k":"dk","x":1513,"d":56},{"r":50,"k":"dk","x":1519,"d":26},{"r":50,"k":"dk","x":1525,"d":6},{"r":50,"k":"dk","x":1535,"d":1},{"r":50,"k":"dk","x":1572,"d":2},{"r":50,"k":"dk","x":1582,"d":10},{"r":50,"k":"dk","x":1592,"d":16},{"r":50,"k":"dk","x":1600,"d":8},{"r":50,"k":"dk","x":1608,"d":0},
{"r":51,"k":"pl","x":1442,"d":0},{"r":51,"k":"pl","x":1460,"d":10},{"r":51,"k":"pl","x":1478,"d":22},{"r":51,"k":"pl","x":1495,"d":32},{"r":51,"k":"pl","x":1512,"d":35},{"r":51,"k":"pl","x":1528,"d":28},{"r":51,"k":"pl","x":1545,"d":22},{"r":51,"k":"pl","x":1560,"d":28},{"r":51,"k":"pl","x":1575,"d":35},{"r":51,"k":"pl","x":1592,"d":38},{"r":51,"k":"pl","x":1610,"d":35},{"r":51,"k":"pl","x":1625,"d":25},{"r":51,"k":"pl","x":1640,"d":8},{"r":51,"k":"pl","x":1652,"d":0},
{"r":51,"k":"pk","x":1480,"d":0},{"r":51,"k":"pk","x":1490,"d":8},{"r":51,"k":"pk","x":1497,"d":35},{"r":51,"k":"pk","x":1503,"d":60},{"r":51,"k":"pk","x":1508,"d":66},{"r":51,"k":"pk","x":1513,"d":55},{"r":51,"k":"pk","x":1519,"d":25},{"r":51,"k":"pk","x":1525,"d":6},{"r":51,"k":"pk","x":1535,"d":1},{"r":51,"k":"pk","x":1572,"d":2},{"r":51,"k":"pk","x":1582,"d":10},{"r":51,"k":"pk","x":1592,"d":16},{"r":51,"k":"pk","x":1600,"d":8},{"r":51,"k":"pk","x":1608,"d":0},
{"r":52,"k":"pl","x":1442,"d":0},{"r":52,"k":"pl","x":1458,"d":12},{"r":52,"k":"pl","x":1475,"d":25},{"r":52,"k":"pl","x":1495,"d":32},{"r":52,"k":"pl","x":1515,"d":30},{"r":52,"k":"pl","x":1535,"d":25},{"r":52,"k":"pl","x":1555,"d":30},{"r":52,"k":"pl","x":1575,"d":35},{"r":52,"k":"pl","x":1595,"d":38},{"r":52,"k":"pl","x":1615,"d":32},{"r":52,"k":"pl","x":1630,"d":18},{"r":52,"k":"pl","x":1648,"d":0},
{"r":52,"k":"pk","x":1480,"d":0},{"r":52,"k":"pk","x":1490,"d":8},{"r":52,"k":"pk","x":1497,"d":33},{"r":52,"k":"pk","x":1503,"d":57},{"r":52,"k":"pk","x":1508,"d":62},{"r":52,"k":"pk","x":1513,"d":52},{"r":52,"k":"pk","x":1519,"d":24},{"r":52,"k":"pk","x":1525,"d":6},{"r":52,"k":"pk","x":1535,"d":1},{"r":52,"k":"pk","x":1572,"d":2},{"r":52,"k":"pk","x":1582,"d":10},{"r":52,"k":"pk","x":1592,"d":16},{"r":52,"k":"pk","x":1600,"d":8},{"r":52,"k":"pk","x":1608,"d":0},
{"r":53,"k":"pk","x":1457,"d":0},{"r":53,"k":"pk","x":1482,"d":2},{"r":53,"k":"pk","x":1491,"d":10},{"r":53,"k":"pk","x":1498,"d":38},{"r":53,"k":"pk","x":1504,"d":62},{"r":53,"k":"pk","x":1509,"d":66},{"r":53,"k":"pk","x":1514,"d":55},{"r":53,"k":"pk","x":1520,"d":25},{"r":53,"k":"pk","x":1526,"d":6},{"r":53,"k":"pk","x":1536,"d":1},{"r":53,"k":"pk","x":1572,"d":2},{"r":53,"k":"pk","x":1582,"d":10},{"r":53,"k":"pk","x":1592,"d":16},{"r":53,"k":"pk","x":1600,"d":8},{"r":53,"k":"pk","x":1633,"d":0},
{"r":54,"k":"bl","x":1475,"d":0},{"r":54,"k":"bl","x":1486,"d":3},{"r":54,"k":"bl","x":1493,"d":15},{"r":54,"k":"bl","x":1499,"d":45},{"r":54,"k":"bl","x":1505,"d":75},{"r":54,"k":"bl","x":1510,"d":85},{"r":54,"k":"bl","x":1516,"d":62},{"r":54,"k":"bl","x":1522,"d":28},{"r":54,"k":"bl","x":1528,"d":6},{"r":54,"k":"bl","x":1537,"d":1},{"r":54,"k":"bl","x":1568,"d":3},{"r":54,"k":"bl","x":1580,"d":15},{"r":54,"k":"bl","x":1590,"d":28},{"r":54,"k":"bl","x":1598,"d":20},{"r":54,"k":"bl","x":1606,"d":5},{"r":54,"k":"bl","x":1666,"d":0},
{"r":55,"k":"or","x":1172,"d":0},{"r":55,"k":"or","x":1475,"d":1},{"r":55,"k":"or","x":1483,"d":8},{"r":55,"k":"or","x":1490,"d":28},{"r":55,"k":"or","x":1496,"d":62},{"r":55,"k":"or","x":1502,"d":88},{"r":55,"k":"or","x":1508,"d":95},{"r":55,"k":"or","x":1513,"d":85},{"r":55,"k":"or","x":1518,"d":55},{"r":55,"k":"or","x":1522,"d":30},{"r":55,"k":"or","x":1528,"d":12},{"r":55,"k":"or","x":1535,"d":5},{"r":55,"k":"or","x":1550,"d":3},{"r":55,"k":"or","x":1570,"d":10},{"r":55,"k":"or","x":1582,"d":18},{"r":55,"k":"or","x":1591,"d":25},{"r":55,"k":"or","x":1599,"d":20},{"r":55,"k":"or","x":1607,"d":8},{"r":55,"k":"or","x":1615,"d":3},{"r":55,"k":"or","x":1640,"d":0},{"r":55,"k":"or","x":1790,"d":0},
{"r":56,"k":"dk","x":1478,"d":0},{"r":56,"k":"dk","x":1496,"d":3},{"r":56,"k":"dk","x":1503,"d":15},{"r":56,"k":"dk","x":1510,"d":50},{"r":56,"k":"dk","x":1516,"d":85},{"r":56,"k":"dk","x":1520,"d":95},{"r":56,"k":"dk","x":1525,"d":80},{"r":56,"k":"dk","x":1530,"d":45},{"r":56,"k":"dk","x":1536,"d":15},{"r":56,"k":"dk","x":1545,"d":3},{"r":56,"k":"dk","x":1580,"d":2},{"r":56,"k":"dk","x":1592,"d":10},{"r":56,"k":"dk","x":1602,"d":14},{"r":56,"k":"dk","x":1610,"d":8},{"r":56,"k":"dk","x":1627,"d":0}
],
"rng":[
{"r":1,"k":"pk","lv":68,"a":1570,"b":1579},{"r":1,"k":"pk","lv":68,"a":1586,"b":1615},{"r":1,"k":"pk","lv":95,"a":1552,"b":1627},
{"r":2,"k":"pk","lv":68,"a":1545,"b":1556},{"r":2,"k":"pk","lv":68,"a":1563,"b":1592},{"r":2,"k":"pk","lv":95,"a":1526,"b":1601},
{"r":5,"k":"pk","lv":68,"a":1559,"b":1568},{"r":5,"k":"pk","lv":68,"a":1576,"b":1603},{"r":5,"k":"pk","lv":95,"a":1541,"b":1614},
{"r":6,"k":"pk","lv":68,"a":1567,"b":1576},{"r":6,"k":"pk","lv":68,"a":1583,"b":1611},{"r":6,"k":"pk","lv":95,"a":1548,"b":1622},
{"r":7,"k":"pk","lv":68,"a":1570,"b":1579},{"r":7,"k":"pk","lv":68,"a":1586,"b":1615},{"r":7,"k":"pk","lv":95,"a":1552,"b":1627},
{"r":9,"k":"bl","lv":68,"a":1486,"b":1518},{"r":9,"k":"bl","lv":95,"a":1471,"b":1519},{"r":9,"k":"bl","lv":95,"a":1567,"b":1596},
{"r":12,"k":"bl","lv":68,"a":1495,"b":1512},{"r":12,"k":"bl","lv":95,"a":1484,"b":1521},{"r":12,"k":"bl","lv":95,"a":1578,"b":1601},
{"r":15,"k":"dk","lv":68,"a":1493,"b":1521},{"r":15,"k":"dk","lv":95,"a":1488,"b":1525},{"r":15,"k":"dk","lv":95,"a":1581,"b":1603},
{"r":17,"k":"dk","lv":68,"a":1499,"b":1518},{"r":17,"k":"dk","lv":95,"a":1490,"b":1523},{"r":17,"k":"dk","lv":95,"a":1581,"b":1603},
{"r":18,"k":"bl","lv":68,"a":1501,"b":1518},{"r":18,"k":"bl","lv":95,"a":1490,"b":1523},{"r":18,"k":"bl","lv":95,"a":1581,"b":1603},
{"r":20,"k":"dk","lv":68,"a":1499,"b":1518},{"r":20,"k":"dk","lv":95,"a":1490,"b":1523},{"r":20,"k":"dk","lv":95,"a":1581,"b":1603},
{"r":24,"k":"dk","lv":68,"a":1501,"b":1519},{"r":24,"k":"dk","lv":95,"a":1490,"b":1525},{"r":24,"k":"dk","lv":95,"a":1581,"b":1607},
{"r":26,"k":"bl","lv":68,"a":1497,"b":1519},{"r":26,"k":"bl","lv":95,"a":1488,"b":1523},{"r":26,"k":"bl","lv":95,"a":1581,"b":1603},
{"r":28,"k":"dk","lv":68,"a":1499,"b":1518},{"r":28,"k":"dk","lv":95,"a":1490,"b":1523},{"r":28,"k":"dk","lv":95,"a":1581,"b":1603},
{"r":29,"k":"bl","lv":68,"a":1497,"b":1519},{"r":29,"k":"bl","lv":95,"a":1490,"b":1525},{"r":29,"k":"bl","lv":95,"a":1581,"b":1605},
{"r":31,"k":"bl","lv":68,"a":1499,"b":1517},{"r":31,"k":"bl","lv":95,"a":1490,"b":1523},{"r":31,"k":"bl","lv":95,"a":1581,"b":1602},
{"r":33,"k":"dk","lv":68,"a":1492,"b":1519},{"r":33,"k":"dk","lv":95,"a":1490,"b":1525},{"r":33,"k":"dk","lv":95,"a":1581,"b":1603},
{"r":34,"k":"dk","lv":68,"a":1492,"b":1519},{"r":34,"k":"dk","lv":95,"a":1490,"b":1525},{"r":34,"k":"dk","lv":95,"a":1581,"b":1603},
{"r":35,"k":"dk","lv":68,"a":1492,"b":1519},{"r":35,"k":"dk","lv":95,"a":1490,"b":1525},{"r":35,"k":"dk","lv":95,"a":1581,"b":1603},
{"r":36,"k":"bl","lv":68,"a":1494,"b":1521},{"r":36,"k":"bl","lv":95,"a":1491,"b":1525},{"r":36,"k":"bl","lv":95,"a":1581,"b":1605},
{"r":37,"k":"dk","lv":68,"a":1494,"b":1520},{"r":37,"k":"dk","lv":95,"a":1490,"b":1525},{"r":37,"k":"dk","lv":95,"a":1581,"b":1603},
{"r":39,"k":"pk","lv":68,"a":1570,"b":1579},{"r":39,"k":"pk","lv":68,"a":1586,"b":1615},{"r":39,"k":"pk","lv":95,"a":1552,"b":1627},
{"r":40,"k":"dk","lv":68,"a":1500,"b":1525},{"r":40,"k":"dk","lv":95,"a":1493,"b":1528},{"r":40,"k":"dk","lv":95,"a":1581,"b":1607},
{"r":42,"k":"bl","lv":68,"a":1495,"b":1518},{"r":42,"k":"bl","lv":95,"a":1490,"b":1523},{"r":42,"k":"bl","lv":95,"a":1574,"b":1600},
{"r":44,"k":"dk","lv":68,"a":1496,"b":1522},{"r":44,"k":"dk","lv":95,"a":1492,"b":1527},{"r":44,"k":"dk","lv":95,"a":1578,"b":1600},
{"r":45,"k":"dk","lv":68,"a":1496,"b":1522},{"r":45,"k":"dk","lv":95,"a":1492,"b":1527},{"r":45,"k":"dk","lv":95,"a":1578,"b":1600},
{"r":46,"k":"dk","lv":68,"a":1496,"b":1522},{"r":46,"k":"dk","lv":95,"a":1492,"b":1527},{"r":46,"k":"dk","lv":95,"a":1578,"b":1600},
{"r":47,"k":"dk","lv":68,"a":1496,"b":1522},{"r":47,"k":"dk","lv":95,"a":1492,"b":1527},{"r":47,"k":"dk","lv":95,"a":1578,"b":1600},
{"r":48,"k":"dk","lv":68,"a":1496,"b":1522},{"r":48,"k":"dk","lv":95,"a":1492,"b":1527},{"r":48,"k":"dk","lv":95,"a":1578,"b":1600},
{"r":50,"k":"dk","lv":68,"a":1495,"b":1522},{"r":50,"k":"dk","lv":95,"a":1490,"b":1525},{"r":50,"k":"dk","lv":95,"a":1578,"b":1603},
{"r":51,"k":"pk","lv":68,"a":1493,"b":1523},{"r":51,"k":"pk","lv":95,"a":1490,"b":1526},{"r":51,"k":"pk","lv":95,"a":1578,"b":1600},
{"r":52,"k":"pk","lv":68,"a":1493,"b":1523},{"r":52,"k":"pk","lv":95,"a":1490,"b":1526},{"r":52,"k":"pk","lv":95,"a":1578,"b":1600},
{"r":53,"k":"pk","lv":68,"a":1493,"b":1523},{"r":53,"k":"pk","lv":95,"a":1490,"b":1526},{"r":53,"k":"pk","lv":95,"a":1578,"b":1600},
{"r":54,"k":"bl","lv":68,"a":1497,"b":1522},{"r":54,"k":"bl","lv":95,"a":1490,"b":1528},{"r":54,"k":"bl","lv":95,"a":1578,"b":1603},
{"r":55,"k":"or","lv":68,"a":1496,"b":1521},{"r":55,"k":"or","lv":95,"a":1482,"b":1533},{"r":55,"k":"or","lv":95,"a":1574,"b":1609},
{"r":56,"k":"dk","lv":68,"a":1506,"b":1534},{"r":56,"k":"dk","lv":95,"a":1499,"b":1546},{"r":56,"k":"dk","lv":95,"a":1590,"b":1625}
],
"pb":[{"x":1439,"d":0.0002},{"x":1455,"d":0.0003},{"x":1470,"d":0.0007},{"x":1478,"d":0.0015},{"x":1484,"d":0.003},{"x":1488,"d":0.005},{"x":1492,"d":0.009},{"x":1496,"d":0.015},{"x":1500,"d":0.023},{"x":1504,"d":0.031},{"x":1507,"d":0.0352},{"x":1509,"d":0.036},{"x":1512,"d":0.035},{"x":1515,"d":0.031},{"x":1518,"d":0.025},{"x":1521,"d":0.018},{"x":1524,"d":0.012},{"x":1527,"d":0.0075},{"x":1531,"d":0.004},{"x":1537,"d":0.002},{"x":1545,"d":0.0012},{"x":1555,"d":0.0012},{"x":1565,"d":0.0022},{"x":1575,"d":0.004},{"x":1584,"d":0.006},{"x":1591,"d":0.0072},{"x":1596,"d":0.0065},{"x":1601,"d":0.0045},{"x":1606,"d":0.0027},{"x":1612,"d":0.0015},{"x":1619,"d":0.001}],
"rb":[{"lv":68,"a":1496,"b":1521},{"lv":95,"a":1482,"b":1533},{"lv":95,"a":1574,"b":1609}],
"tb":[{"t":"Date Klock Overall","x":1527.5,"y":0.0885,"s":"h"},{"t":"68.3% probability","x":1527.8,"y":0.0789,"s":"n"},{"t":"1496 (68.3%) 1521CE","x":1532.4,"y":0.0701,"s":"n"},{"t":"95.4% probability","x":1527.8,"y":0.0612,"s":"n"},{"t":"1482 (81.5%) 1533CE","x":1532.4,"y":0.0517,"s":"n"},{"t":"1574 (14.0%) 1609CE","x":1532.4,"y":0.0429,"s":"n"},{"t":"b","x":1408.4,"y":0.0823,"s":"tag"}],
"pc":[{"x":0,"d":0},{"x":1,"d":0.004},{"x":2,"d":0.012},{"x":3,"d":0.021},{"x":5,"d":0.033},{"x":7,"d":0.039},{"x":9,"d":0.0412},{"x":11,"d":0.0415},{"x":13,"d":0.04},{"x":15,"d":0.0375},{"x":18,"d":0.0335},{"x":21,"d":0.0295},{"x":25,"d":0.025},{"x":30,"d":0.0202},{"x":35,"d":0.016},{"x":40,"d":0.0125},{"x":45,"d":0.0098},{"x":50,"d":0.0077},{"x":60,"d":0.0048},{"x":70,"d":0.003},{"x":80,"d":0.0019},{"x":90,"d":0.0012},{"x":100,"d":0.0008},{"x":120,"d":0.0003},{"x":146,"d":0.0001}],
"pg":[{"x":0,"d":0},{"x":2,"d":0.009},{"x":4,"d":0.02},{"x":6,"d":0.029},{"x":8,"d":0.034},{"x":11,"d":0.0365},{"x":14,"d":0.036},{"x":18,"d":0.033},{"x":22,"d":0.0295},{"x":26,"d":0.025},{"x":30,"d":0.0215},{"x":35,"d":0.0175},{"x":40,"d":0.014},{"x":50,"d":0.0088},{"x":60,"d":0.0056},{"x":70,"d":0.0036},{"x":80,"d":0.0023},{"x":100,"d":0.001},{"x":120,"d":0.0004},{"x":146,"d":0.0001}],
"rc":[{"lv":68,"a":5,"b":26},{"lv":95,"a":3,"b":52}],
"tc":[{"t":"Interval Klock Overall Interval","x":68.4,"y":0.1019,"s":"h"},{"t":"68.3% probability","x":65.0,"y":0.0909,"s":"n"},{"t":"5 (68.3%) 26","x":68.8,"y":0.0808,"s":"n"},{"t":"95.4% probability","x":65.0,"y":0.0706,"s":"n"},{"t":"3 (95.4%) 52","x":68.8,"y":0.0596,"s":"n"},{"t":"Agreement 107.5%","x":62.1,"y":0.0494,"s":"n"},{"t":"c","x":162.4,"y":0.0933,"s":"tag"}],
"fb":[{"panel":"b"}],
"fc":[{"panel":"c"}]
},
"layer":[
{"data":{"name":"boxes"},"transform":[{"calculate":"95.17-datum.depth","as":"rd"}],
 "mark":{"type":"rect","fill":"#d5dbec","cornerRadiusTopLeft":7,"cornerRadiusTopRight":7,"yOffset":-6.5,"y2Offset":4.5},
 "encoding":{"x":{"field":"depth","type":"quantitative","scale":{"domain":[0,100],"range":[4,604],"nice":false,"zero":false},"axis":null},"x2":{"field":"rd"},
 "y":{"field":"r0","type":"quantitative","scale":{"domain":[1,56],"range":[15,742],"nice":false,"zero":false},"axis":null},"y2":{"field":"r0"}}},
{"data":{"name":"dist"},"transform":[{"filter":"datum.k=='lt'||datum.k=='pl'"},{"calculate":"datum.r-datum.d/250","as":"top"}],
 "mark":{"type":"area","strokeWidth":0.6},
 "encoding":{"x":{"field":"x","type":"quantitative","scale":{"domain":[1028.4,1667.2],"range":[0,580],"nice":false,"zero":false},"axis":null},
 "y":{"field":"top","type":"quantitative","scale":{"domain":[1,56],"range":[15,742],"nice":false,"zero":false},"axis":null},"y2":{"field":"r"},
 "detail":{"field":"r","type":"nominal"},
 "fill":{"field":"k","type":"nominal","scale":{"domain":["pk","pl","bl","dk","lt","or"],"range":["#e9a6c8","#f6d4e5","#9ebfde","#6b6b6b","#dedede","#fcc48d"]},"legend":null},
 "stroke":{"field":"k","type":"nominal","scale":{"domain":["pk","pl","bl","dk","lt","or"],"range":["#d0649c","#eab0cd","#6d9cca","#454545","#a8a8a8","#f4a35c"]},"legend":null}}},
{"data":{"name":"dist"},"transform":[{"filter":"datum.k!='lt'&&datum.k!='pl'"},{"calculate":"datum.r-datum.d/250","as":"top"}],
 "mark":{"type":"area","strokeWidth":0.6},
 "encoding":{"x":{"field":"x","type":"quantitative","scale":{"domain":[1028.4,1667.2],"range":[0,580],"nice":false,"zero":false},"axis":null},
 "y":{"field":"top","type":"quantitative","scale":{"domain":[1,56],"range":[15,742],"nice":false,"zero":false},"axis":null},"y2":{"field":"r"},
 "detail":{"field":"r","type":"nominal"},
 "fill":{"field":"k","type":"nominal","scale":{"domain":["pk","pl","bl","dk","lt","or"],"range":["#e9a6c8","#f6d4e5","#9ebfde","#6b6b6b","#dedede","#fcc48d"]},"legend":null},
 "stroke":{"field":"k","type":"nominal","scale":{"domain":["pk","pl","bl","dk","lt","or"],"range":["#d0649c","#eab0cd","#6d9cca","#454545","#a8a8a8","#f4a35c"]},"legend":null}}},
{"data":{"name":"rng"},"transform":[{"filter":"datum.lv==68"}],
 "mark":{"type":"rule","yOffset":1.5,"strokeWidth":1},
 "encoding":{"x":{"field":"a","type":"quantitative","scale":{"domain":[1028.4,1667.2],"range":[0,580],"nice":false,"zero":false},"axis":null},"x2":{"field":"b"},
 "y":{"field":"r","type":"quantitative","scale":{"domain":[1,56],"range":[15,742],"nice":false,"zero":false},"axis":null},
 "color":{"field":"k","type":"nominal","scale":{"domain":["pk","pl","bl","dk","lt","or"],"range":["#d0649c","#eab0cd","#6d9cca","#333333","#a8a8a8","#f4a35c"]},"legend":null}}},
{"data":{"name":"rng"},"transform":[{"filter":"datum.lv==95"}],
 "mark":{"type":"rule","yOffset":3.8,"strokeWidth":1},
 "encoding":{"x":{"field":"a","type":"quantitative","scale":{"domain":[1028.4,1667.2],"range":[0,580],"nice":false,"zero":false},"axis":null},"x2":{"field":"b"},
 "y":{"field":"r","type":"quantitative","scale":{"domain":[1,56],"range":[15,742],"nice":false,"zero":false},"axis":null},
 "color":{"field":"k","type":"nominal","scale":{"domain":["pk","pl","bl","dk","lt","or"],"range":["#d0649c","#eab0cd","#6d9cca","#333333","#a8a8a8","#f4a35c"]},"legend":null}}},
{"data":{"name":"boxes"},"transform":[{"calculate":"95.17-datum.depth","as":"rd"}],
 "mark":{"type":"rect","filled":false,"stroke":"#4d4d4d","strokeWidth":1,"cornerRadius":7,"yOffset":-6.5,"y2Offset":6},
 "encoding":{"x":{"field":"depth","type":"quantitative","scale":{"domain":[0,100],"range":[4,604],"nice":false,"zero":false},"axis":null},"x2":{"field":"rd"},
 "y":{"field":"r0","type":"quantitative","scale":{"domain":[1,56],"range":[15,742],"nice":false,"zero":false},"axis":null},"y2":{"field":"r1"}}},
{"data":{"name":"grid"},
 "mark":{"type":"rule","color":"#333333","strokeWidth":1},
 "encoding":{"x":{"field":"g","type":"quantitative","scale":{"domain":[1028.4,1667.2],"range":[0,580],"nice":false,"zero":false},
 "axis":{"values":[1030,1040,1050,1060,1070,1080,1090,1100,1110,1120,1130,1140,1150,1160,1170,1180,1190,1200,1210,1220,1230,1240,1250,1260,1270,1280,1290,1300,1310,1320,1330,1340,1350,1360,1370,1380,1390,1400,1410,1420,1430,1440,1450,1460,1470,1480,1490,1500,1510,1520,1530,1540,1550,1560,1570,1580,1590,1600,1610,1620,1630,1640,1650,1660],
 "labelExpr":"datum.value%100==0?datum.label:''","format":"d","tickSize":-4,"tickColor":"#444444","labelPadding":8,"labelFontSize":11.5,"labelColor":"#111111","labelOverlap":false,"labelFlush":false,"domain":false,"grid":false,
 "title":"Modelled date (CE)","titleFontStyle":"italic","titleFontWeight":"normal","titleFontSize":11.5,"titleColor":"#111111","titlePadding":3}}}},
{"data":{"name":"labels"},"transform":[{"filter":"datum.it==0"}],
 "mark":{"type":"text","align":"left","baseline":"middle","dx":4.7,"fontSize":11.5,"color":"#111111"},
 "encoding":{"x":{"field":"ind","type":"quantitative","scale":{"domain":[0,100],"range":[4,604],"nice":false,"zero":false},"axis":null},
 "y":{"field":"r","type":"quantitative","scale":{"domain":[1,56],"range":[15,742],"nice":false,"zero":false},"axis":null},"text":{"field":"t"}}},
{"data":{"name":"labels"},"transform":[{"filter":"datum.it==1"}],
 "mark":{"type":"text","align":"left","baseline":"middle","dx":4.7,"fontSize":11.5,"fontStyle":"italic","color":"#111111"},
 "encoding":{"x":{"field":"ind","type":"quantitative","scale":{"domain":[0,100],"range":[4,604],"nice":false,"zero":false},"axis":null},
 "y":{"field":"r","type":"quantitative","scale":{"domain":[1,56],"range":[15,742],"nice":false,"zero":false},"axis":null},"text":{"field":"t"}}},
{"data":{"name":"gaps"},
 "mark":{"type":"text","align":"left","baseline":"middle","fontSize":11.5,"color":"#111111"},
 "encoding":{"x":{"field":"ind","type":"quantitative","scale":{"domain":[0,100],"range":[4,604],"nice":false,"zero":false},"axis":null},
 "y":{"field":"r","type":"quantitative","scale":{"domain":[1,56],"range":[15,742],"nice":false,"zero":false},"axis":null},"text":{"field":"t"}}},
{"data":{"name":"ann"},
 "mark":{"type":"text","align":"left","baseline":"middle","fontSize":11,"fontStyle":"italic","color":"#111111"},
 "encoding":{"x":{"field":"ind","type":"quantitative","scale":{"domain":[0,100],"range":[4,604],"nice":false,"zero":false},"axis":null},
 "y":{"field":"r","type":"quantitative","scale":{"domain":[1,56],"range":[15,742],"nice":false,"zero":false},"axis":null},"text":{"field":"t"}}},
{"data":{"name":"tag"},
 "mark":{"type":"text","align":"left","baseline":"alphabetic","fontSize":22,"fontWeight":"bold","color":"#000000"},
 "encoding":{"x":{"field":"ind","type":"quantitative","scale":{"domain":[0,100],"range":[4,604],"nice":false,"zero":false},"axis":null},
 "y":{"field":"r","type":"quantitative","scale":{"domain":[1,56],"range":[15,742],"nice":false,"zero":false},"axis":null},"text":{"field":"t"}}},
{"data":{"name":"ttl"},
 "mark":{"type":"text","align":"left","baseline":"top","fontSize":10,"color":"#111111"},
 "encoding":{"x":{"field":"ind","type":"quantitative","scale":{"domain":[0,100],"range":[4,604],"nice":false,"zero":false},"axis":null},
 "y":{"field":"r","type":"quantitative","scale":{"domain":[1,56],"range":[15,742],"nice":false,"zero":false},"axis":null},"text":{"field":"t"}}},
{"data":{"name":"pb"},
 "mark":{"type":"area","color":"#fcc48d","line":{"color":"#f8b578","strokeWidth":0.8}},
 "encoding":{"x":{"field":"x","type":"quantitative","scale":{"domain":[1439,1619],"range":[-6,229],"nice":false,"zero":false},
 "axis":{"orient":"bottom","offset":210,"values":[1440,1450,1460,1470,1480,1490,1500,1510,1520,1530,1540,1550,1560,1570,1580,1590,1600,1610],"labelExpr":"datum.value%50==0?datum.label:''","format":"d","tickSize":-4,"tickColor":"#444444","labelPadding":6,"labelFontSize":11.5,"labelColor":"#111111","labelOverlap":false,"labelFlush":false,"domain":false,"grid":false,"title":"Modelled date (CE)","titleFontWeight":"normal","titleFontSize":11.5,"titleColor":"#111111","titlePadding":2}},
 "y":{"field":"d","type":"quantitative","scale":{"domain":[-0.0177,0.0939],"range":[964,800],"nice":false,"zero":false},
 "axis":{"orient":"left","offset":6,"values":[0,0.01,0.02,0.03],"format":".2f","labelExpr":"datum.value==0?'0':datum.label","tickSize":-4,"tickColor":"#444444","labelPadding":6,"labelFontSize":11.5,"labelColor":"#111111","domain":false,"grid":false,"title":"Probability density","titleFontWeight":"normal","titleFontSize":11.5,"titleColor":"#111111","titlePadding":10,"titleY":895}},
 "y2":{"datum":0}}},
{"data":{"name":"fb"},
 "mark":{"type":"rect","filled":false,"stroke":"#7a7a7a","strokeWidth":1},
 "encoding":{"x":{"datum":1439,"type":"quantitative","scale":{"domain":[1439,1619],"range":[-6,229],"nice":false,"zero":false},"axis":null},"x2":{"datum":1619},
 "y":{"datum":-0.0177,"type":"quantitative","scale":{"domain":[-0.0177,0.0939],"range":[964,800],"nice":false,"zero":false},"axis":null},"y2":{"datum":0.0939}}},
{"data":{"name":"rb"},"transform":[{"filter":"datum.lv==68"}],
 "mark":{"type":"rule","color":"#f5aa6a","strokeWidth":1},
 "encoding":{"x":{"field":"a","type":"quantitative","scale":{"domain":[1439,1619],"range":[-6,229],"nice":false,"zero":false},"axis":null},"x2":{"field":"b"},
 "y":{"datum":-0.0034,"type":"quantitative","scale":{"domain":[-0.0177,0.0939],"range":[964,800],"nice":false,"zero":false},"axis":null}}},
{"data":{"name":"rb"},"transform":[{"filter":"datum.lv==95"}],
 "mark":{"type":"rule","color":"#f5aa6a","strokeWidth":1},
 "encoding":{"x":{"field":"a","type":"quantitative","scale":{"domain":[1439,1619],"range":[-6,229],"nice":false,"zero":false},"axis":null},"x2":{"field":"b"},
 "y":{"datum":-0.0068,"type":"quantitative","scale":{"domain":[-0.0177,0.0939],"range":[964,800],"nice":false,"zero":false},"axis":null}}},
{"data":{"name":"rb"},"transform":[{"filter":"datum.lv==68"},{"fold":["a","b"],"as":["e","v"]}],
 "mark":{"type":"rule","color":"#f5aa6a","strokeWidth":1},
 "encoding":{"x":{"field":"v","type":"quantitative","scale":{"domain":[1439,1619],"range":[-6,229],"nice":false,"zero":false},"axis":null},
 "y":{"datum":-0.0034,"type":"quantitative","scale":{"domain":[-0.0177,0.0939],"range":[964,800],"nice":false,"zero":false},"axis":null},"y2":{"datum":-0.0012}}},
{"data":{"name":"rb"},"transform":[{"filter":"datum.lv==95"},{"fold":["a","b"],"as":["e","v"]}],
 "mark":{"type":"rule","color":"#f5aa6a","strokeWidth":1},
 "encoding":{"x":{"field":"v","type":"quantitative","scale":{"domain":[1439,1619],"range":[-6,229],"nice":false,"zero":false},"axis":null},
 "y":{"datum":-0.0068,"type":"quantitative","scale":{"domain":[-0.0177,0.0939],"range":[964,800],"nice":false,"zero":false},"axis":null},"y2":{"datum":-0.0046}}},
{"data":{"name":"tb"},"transform":[{"filter":"datum.s=='n'"}],
 "mark":{"type":"text","align":"left","baseline":"middle","fontSize":11.5,"color":"#111111"},
 "encoding":{"x":{"field":"x","type":"quantitative","scale":{"domain":[1439,1619],"range":[-6,229],"nice":false,"zero":false},"axis":null},
 "y":{"field":"y","type":"quantitative","scale":{"domain":[-0.0177,0.0939],"range":[964,800],"nice":false,"zero":false},"axis":null},"text":{"field":"t"}}},
{"data":{"name":"tb"},"transform":[{"filter":"datum.s=='h'"}],
 "mark":{"type":"text","align":"center","baseline":"middle","fontSize":11.5,"fontStyle":"italic","color":"#111111"},
 "encoding":{"x":{"field":"x","type":"quantitative","scale":{"domain":[1439,1619],"range":[-6,229],"nice":false,"zero":false},"axis":null},
 "y":{"field":"y","type":"quantitative","scale":{"domain":[-0.0177,0.0939],"range":[964,800],"nice":false,"zero":false},"axis":null},"text":{"field":"t"}}},
{"data":{"name":"tb"},"transform":[{"filter":"datum.s=='tag'"}],
 "mark":{"type":"text","align":"left","baseline":"alphabetic","fontSize":21,"fontWeight":"bold","color":"#000000"},
 "encoding":{"x":{"field":"x","type":"quantitative","scale":{"domain":[1439,1619],"range":[-6,229],"nice":false,"zero":false},"axis":null},
 "y":{"field":"y","type":"quantitative","scale":{"domain":[-0.0177,0.0939],"range":[964,800],"nice":false,"zero":false},"axis":null},"text":{"field":"t"}}},
{"data":{"name":"pc"},
 "mark":{"type":"area","color":"#a7d48f","line":{"color":"#74b94f","strokeWidth":0.8}},
 "encoding":{"x":{"field":"x","type":"quantitative","scale":{"domain":[-29,146.7],"range":[397,633],"nice":false,"zero":false},
 "axis":{"orient":"bottom","offset":210,"values":[-20,-10,0,10,20,30,40,50,60,70,80,90,100,110,120,130,140],"labelExpr":"(datum.value%30==0&&datum.value>=0)?datum.label:''","format":"d","tickSize":-4,"tickColor":"#444444","labelPadding":6,"labelFontSize":11.5,"labelColor":"#111111","labelOverlap":false,"labelFlush":false,"domain":false,"grid":false,"title":"Interval (yrs)","titleFontWeight":"normal","titleFontSize":11.5,"titleColor":"#111111","titlePadding":2}},
 "y":{"field":"d","type":"quantitative","scale":{"domain":[-0.0204,0.1082],"range":[964,800],"nice":false,"zero":false},
 "axis":{"orient":"left","offset":-397,"values":[0,0.02,0.04],"format":".2f","labelExpr":"datum.value==0?'0':datum.label","tickSize":-4,"tickColor":"#444444","labelPadding":6,"labelFontSize":11.5,"labelColor":"#111111","domain":false,"grid":false,"title":"Probability density","titleFontWeight":"normal","titleFontSize":11.5,"titleColor":"#111111","titlePadding":14,"titleY":897}},
 "y2":{"datum":0}}},
{"data":{"name":"pg"},
 "mark":{"type":"line","color":"#6b6b6b","strokeWidth":0.8},
 "encoding":{"x":{"field":"x","type":"quantitative","scale":{"domain":[-29,146.7],"range":[397,633],"nice":false,"zero":false},"axis":null},
 "y":{"field":"d","type":"quantitative","scale":{"domain":[-0.0204,0.1082],"range":[964,800],"nice":false,"zero":false},"axis":null}}},
{"data":{"name":"fc"},
 "mark":{"type":"rect","filled":false,"stroke":"#7a7a7a","strokeWidth":1},
 "encoding":{"x":{"datum":-29,"type":"quantitative","scale":{"domain":[-29,146.7],"range":[397,633],"nice":false,"zero":false},"axis":null},"x2":{"datum":146.7},
 "y":{"datum":-0.0204,"type":"quantitative","scale":{"domain":[-0.0204,0.1082],"range":[964,800],"nice":false,"zero":false},"axis":null},"y2":{"datum":0.1082}}},
{"data":{"name":"rc"},"transform":[{"filter":"datum.lv==68"}],
 "mark":{"type":"rule","color":"#8ccc6c","strokeWidth":1},
 "encoding":{"x":{"field":"a","type":"quantitative","scale":{"domain":[-29,146.7],"range":[397,633],"nice":false,"zero":false},"axis":null},"x2":{"field":"b"},
 "y":{"datum":-0.0039,"type":"quantitative","scale":{"domain":[-0.0204,0.1082],"range":[964,800],"nice":false,"zero":false},"axis":null}}},
{"data":{"name":"rc"},"transform":[{"filter":"datum.lv==95"}],
 "mark":{"type":"rule","color":"#8ccc6c","strokeWidth":1},
 "encoding":{"x":{"field":"a","type":"quantitative","scale":{"domain":[-29,146.7],"range":[397,633],"nice":false,"zero":false},"axis":null},"x2":{"field":"b"},
 "y":{"datum":-0.0079,"type":"quantitative","scale":{"domain":[-0.0204,0.1082],"range":[964,800],"nice":false,"zero":false},"axis":null}}},
{"data":{"name":"rc"},"transform":[{"filter":"datum.lv==68"},{"fold":["a","b"],"as":["e","v"]}],
 "mark":{"type":"rule","color":"#8ccc6c","strokeWidth":1},
 "encoding":{"x":{"field":"v","type":"quantitative","scale":{"domain":[-29,146.7],"range":[397,633],"nice":false,"zero":false},"axis":null},
 "y":{"datum":-0.0039,"type":"quantitative","scale":{"domain":[-0.0204,0.1082],"range":[964,800],"nice":false,"zero":false},"axis":null},"y2":{"datum":-0.0015}}},
{"data":{"name":"rc"},"transform":[{"filter":"datum.lv==95"},{"fold":["a","b"],"as":["e","v"]}],
 "mark":{"type":"rule","color":"#8ccc6c","strokeWidth":1},
 "encoding":{"x":{"field":"v","type":"quantitative","scale":{"domain":[-29,146.7],"range":[397,633],"nice":false,"zero":false},"axis":null},
 "y":{"datum":-0.0079,"type":"quantitative","scale":{"domain":[-0.0204,0.1082],"range":[964,800],"nice":false,"zero":false},"axis":null},"y2":{"datum":-0.0055}}},
{"data":{"name":"tc"},"transform":[{"filter":"datum.s=='n'"}],
 "mark":{"type":"text","align":"left","baseline":"middle","fontSize":11.5,"color":"#111111"},
 "encoding":{"x":{"field":"x","type":"quantitative","scale":{"domain":[-29,146.7],"range":[397,633],"nice":false,"zero":false},"axis":null},
 "y":{"field":"y","type":"quantitative","scale":{"domain":[-0.0204,0.1082],"range":[964,800],"nice":false,"zero":false},"axis":null},"text":{"field":"t"}}},
{"data":{"name":"tc"},"transform":[{"filter":"datum.s=='h'"}],
 "mark":{"type":"text","align":"center","baseline":"middle","fontSize":11.5,"fontStyle":"italic","color":"#111111"},
 "encoding":{"x":{"field":"x","type":"quantitative","scale":{"domain":[-29,146.7],"range":[397,633],"nice":false,"zero":false},"axis":null},
 "y":{"field":"y","type":"quantitative","scale":{"domain":[-0.0204,0.1082],"range":[964,800],"nice":false,"zero":false},"axis":null},"text":{"field":"t"}}},
{"data":{"name":"tc"},"transform":[{"filter":"datum.s=='tag'"}],
 "mark":{"type":"text","align":"left","baseline":"alphabetic","fontSize":21,"fontWeight":"bold","color":"#000000"},
 "encoding":{"x":{"field":"x","type":"quantitative","scale":{"domain":[-29,146.7],"range":[397,633],"nice":false,"zero":false},"axis":null},
 "y":{"field":"y","type":"quantitative","scale":{"domain":[-0.0204,0.1082],"range":[964,800],"nice":false,"zero":false},"axis":null},"text":{"field":"t"}}}
]
}
